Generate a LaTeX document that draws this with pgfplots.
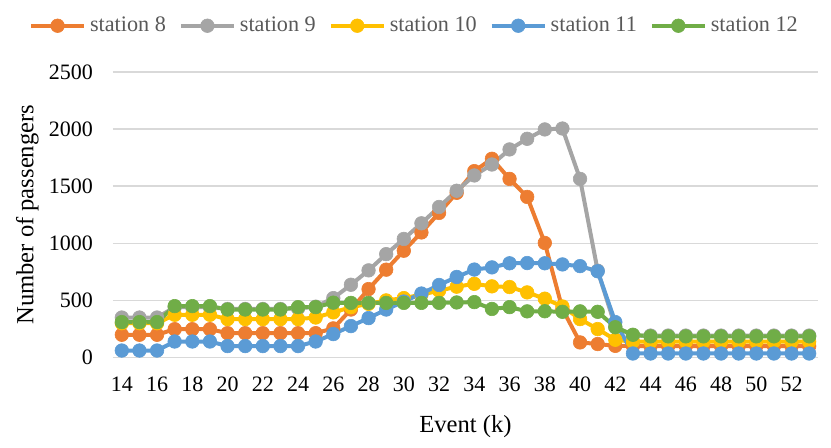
\documentclass[border=0pt]{standalone}
\usepackage{fontspec}
\setmainfont{Liberation Serif}
\usepackage{pgfplots}
\usepackage{pgfplotstable}
\pgfplotsset{compat=1.18}
\definecolor{c8}{HTML}{ED7D31}
\definecolor{c9}{HTML}{A5A5A5}
\definecolor{c10}{HTML}{FFC000}
\definecolor{c11}{HTML}{5B9BD5}
\definecolor{c12}{HTML}{70AD47}
\definecolor{gridc}{HTML}{D9D9D9}
\definecolor{legc}{HTML}{595959}
\pgfplotstableread{
x s8 s9 s10 s11 s12
14 199 350 300 61 310
15 199 350 300 61 310
16 199 350 300 61 310
17 248 440 374 140 450
18 248 440 374 140 450
19 248 440 374 140 450
20 213 425 336 100 420
21 213 425 336 100 420
22 213 425 336 100 420
23 213 425 336 100 420
24 213 430 336 100 441
25 213 445 350 140 441
26 255 520 395 205 480
27 420 637 440 275 478
28 599 763 470 345 478
29 769 905 500 420 478
30 935 1038 520 490 478
31 1095 1175 550 560 478
32 1266 1318 585 635 478
33 1442 1460 620 705 482
34 1632 1594 645 770 485
35 1740 1690 623 789 425
36 1564 1822 617 825 441
37 1406 1915 570 827 404
38 1003 1997 515 825 405
39 425 2005 447 815 400
40 132 1564 336 800 404
41 118 760 249 755 400
42 102 270 155 310 265
43 100 192 138 35 199
44 100 192 138 35 185
45 100 192 138 35 185
46 100 192 138 35 185
47 100 192 138 35 185
48 100 192 138 35 185
49 100 192 138 35 185
50 100 192 138 35 185
51 100 192 138 35 185
52 100 192 138 35 185
53 100 192 138 35 185
}\data
\begin{document}
\begin{tikzpicture}
\begin{axis}[
 at={(0,0)}, anchor=south west,
 scale only axis, width=352.5pt, height=142.75pt,
 xmin=13.5, xmax=53.5, ymin=0, ymax=2500,
 xtick={14,16,...,52}, ytick={0,500,...,2500},
 major tick length=0pt,
 axis x line=bottom, axis y line=left, axis line style={draw=none},
 ymajorgrids, grid style={draw=gridc, line width=0.75pt},
 tick label style={font=\fontsize{11}{13}\selectfont, /pgf/number format/assume math mode=true},
 yticklabel style={xshift=-6.5pt},
 xticklabel style={yshift=-6.3pt},
 /pgf/number format/1000 sep={},
 xlabel={Event (k)}, ylabel={Number of passengers},
 every axis x label/.style={at={(axis description cs:0.5,-0.2417)}, anchor=center, font=\fontsize{12.3}{14}\selectfont},
 every axis y label/.style={at={(axis description cs:-0.1213,0.5)}, anchor=center, rotate=90, font=\fontsize{12.3}{14}\selectfont},
 legend columns=5,
 legend style={at={(axis description cs:0.429,1.162)}, anchor=center, draw=none, fill=none, font=\fontsize{11.1}{13}\selectfont, text=legc, /tikz/every even column/.append style={column sep=4.5pt}},
 legend image code/.code={\draw[mark repeat=2,mark phase=2,#1] plot coordinates {(0pt,0pt) (13.25pt,0pt) (26.5pt,0pt)};},
 every axis plot/.append style={line width=2pt, mark=*, mark size=3.4pt, mark options={line width=0.3pt}},
 clip=false,
]
\addplot[c8] table[x=x,y=s8] {\data};
\addlegendentry{station 8}
\addplot[c9] table[x=x,y=s9] {\data};
\addlegendentry{station 9}
\addplot[c10] table[x=x,y=s10] {\data};
\addlegendentry{station 10}
\addplot[c11] table[x=x,y=s11] {\data};
\addlegendentry{station 11}
\addplot[c12] table[x=x,y=s12] {\data};
\addlegendentry{station 12}
\end{axis}
\pgfresetboundingbox
\path (-56.5pt,-45.25pt) rectangle (359pt,178.75pt);
\end{tikzpicture}
\end{document}
